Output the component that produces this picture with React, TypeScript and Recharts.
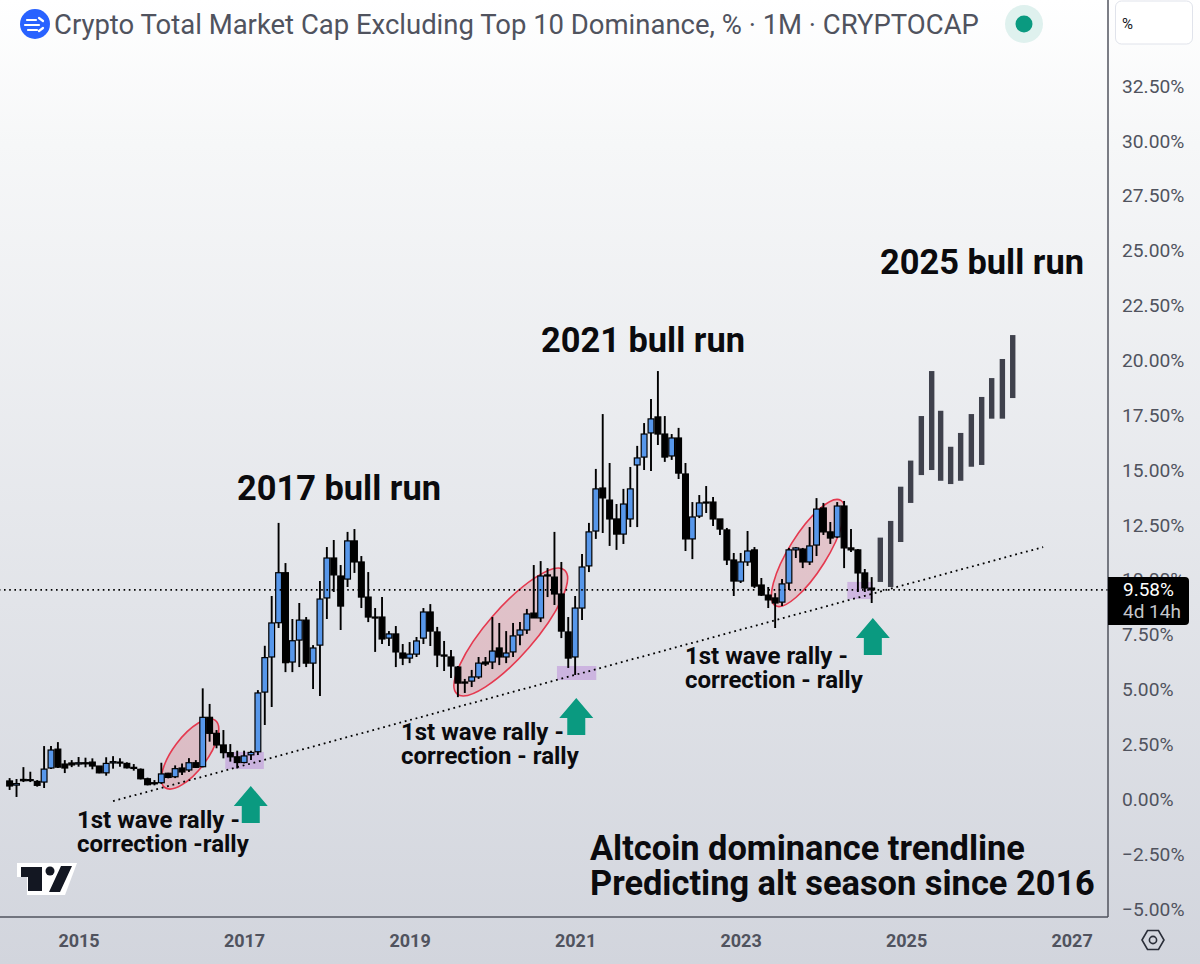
import { Bar, ComposedChart, ReferenceArea, ReferenceDot, ReferenceLine, XAxis, YAxis } from "recharts";

// month numbers count from Jan 2015 = 0
const FIRST_MONTH = -10;

const opens = [
  0.87, 0.68, 0.94, 0.9, 0.85, 0.82, 1.46, 2.32, 1.64, 1.69,
  1.64, 1.7, 1.73, 1.55, 1.24, 1.69, 1.73, 1.67, 1.49, 1.4, 0.97, 0.79, 0.79, 1.22,
  1.06, 1.46, 1.37, 1.7, 1.52, 3.77, 3.04, 2.51, 2.16, 1.97, 1.71, 2.06,
  2.2, 4.92, 6.52, 8.08, 10.36, 6.29, 7.29, 8.2, 6.24, 7.06, 9.21, 11.03,
  10.21, 10.07, 11.81, 10.85, 9.25, 8.34, 8.34, 7.38, 7.57, 6.7, 6.47, 6.65,
  7.38, 8.57, 7.66, 6.61, 6.52, 6.06, 5.38, 5.42, 5.61, 6.29, 6.29, 6.93,
  6.52, 6.75, 7.52, 7.75, 8.52, 8.3, 10.21, 10.16, 9.39, 7.66, 6.52, 8.75,
  10.67, 12.26, 14.22, 13.67, 12.81, 12.12, 12.81, 15.27, 15.63, 16.73, 17.46, 16.68,
  15.68, 16.5, 14.86, 11.9, 12.94, 13.54, 13.58, 12.81, 12.31, 10.94, 9.98, 10.85,
  11.4, 9.8, 9.34, 9.21, 9.02, 9.89, 11.4, 11.44, 10.85, 11.62, 13.31, 12.22,
  11.99, 13.4, 11.49, 11.4, 10.35, 9.66,
];
const closes = [
  0.64, 0.75, 0.88, 0.93, 0.67, 1.41, 2.28, 1.5, 1.46, 1.6,
  1.7, 1.65, 1.55, 1.24, 1.67, 1.75, 1.69, 1.47, 1.44, 0.97, 0.7, 0.74, 1.19, 1.03,
  1.43, 1.28, 1.7, 1.49, 3.77, 3.04, 2.51, 2.16, 1.97, 1.71, 2.01, 2.17,
  4.88, 6.49, 8.07, 10.36, 6.26, 7.26, 8.2, 6.24, 6.93, 9.16, 11.03, 10.26,
  8.84, 11.81, 10.85, 9.25, 8.34, 8.3, 7.34, 7.57, 6.75, 6.47, 6.65, 7.25,
  8.57, 7.7, 6.61, 6.56, 6.11, 5.33, 5.33, 5.61, 6.24, 6.2, 6.79, 6.52,
  6.7, 7.48, 7.75, 8.48, 8.3, 10.21, 10.26, 9.39, 7.7, 6.47, 8.75, 10.62,
  12.22, 14.18, 13.77, 12.81, 12.12, 13.49, 14.18, 15.59, 16.68, 17.37, 16.68, 15.63,
  16.5, 14.9, 11.9, 12.9, 13.54, 13.58, 12.81, 12.35, 10.94, 9.98, 10.85, 11.35,
  9.75, 9.34, 9.12, 8.98, 9.85, 11.4, 11.49, 10.85, 11.58, 13.26, 12.22, 11.94,
  13.4, 11.49, 11.4, 10.35, 9.66, 9.58,
];
const highs = [
  1.0, 0.96, 1.5, 1.29, 0.91, 2.46, 2.46, 2.64, 1.82, 1.82,
  1.96, 1.93, 1.9, 1.55, 1.95, 2.0, 1.9, 1.72, 1.64, 1.44, 1.02, 0.91, 1.7, 1.24,
  1.58, 1.67, 1.91, 1.82, 5.09, 4.38, 3.19, 3.19, 2.55, 2.25, 2.25, 2.25,
  5.01, 7.03, 9.3, 12.63, 10.8, 8.25, 8.98, 8.34, 7.06, 9.98, 11.53, 11.85,
  10.71, 12.22, 12.35, 11.12, 10.39, 8.75, 9.25, 7.7, 7.93, 7.11, 7.2, 7.43,
  8.75, 8.93, 7.89, 7.25, 6.84, 6.11, 5.52, 5.93, 6.52, 6.52, 8.34, 8.07,
  7.7, 8.07, 8.11, 8.71, 10.71, 10.89, 10.57, 12.22, 10.85, 8.34, 9.3, 11.21,
  12.63, 15.09, 17.59, 15.36, 13.49, 14.18, 15.18, 16.14, 17.18, 18.28, 19.55, 17.5,
  16.68, 16.96, 15.36, 13.58, 13.9, 14.31, 13.81, 12.81, 12.4, 11.26, 11.26, 12.26,
  11.53, 10.12, 9.71, 9.43, 10.07, 11.49, 11.53, 11.49, 12.44, 13.76, 13.54, 12.67,
  13.58, 13.63, 12.35, 11.44, 10.53, 10.16,
];
const lows = [
  0.46, 0.14, 0.82, 0.82, 0.61, 0.55, 1.41, 1.46, 1.23, 1.5,
  1.52, 1.49, 1.4, 1.22, 1.11, 1.43, 1.52, 1.44, 1.34, 0.94, 0.67, 0.67, 0.73, 0.99,
  1.0, 1.14, 1.28, 1.46, 1.49, 2.66, 2.36, 1.9, 1.75, 1.44, 1.67, 1.82,
  2.05, 3.42, 4.24, 7.84, 5.83, 5.83, 6.06, 6.06, 5.06, 4.74, 8.25, 9.48,
  7.75, 9.71, 10.35, 8.75, 8.11, 6.75, 7.11, 7.02, 6.06, 6.15, 6.24, 6.52,
  7.11, 7.02, 6.06, 5.88, 5.56, 4.69, 4.88, 5.15, 5.52, 6.11, 5.97, 6.15,
  6.24, 6.52, 7.06, 7.57, 8.3, 8.11, 9.25, 8.89, 7.38, 6.02, 5.7, 8.2,
  10.39, 11.9, 12.17, 11.58, 11.4, 11.67, 12.44, 12.44, 15.04, 15.0, 16.18, 15.41,
  15.5, 14.63, 11.35, 10.98, 12.85, 13.08, 12.49, 12.08, 10.71, 9.3, 9.89, 10.67,
  9.66, 9.3, 8.75, 7.84, 8.84, 9.57, 11.03, 10.57, 10.71, 11.12, 12.08, 11.67,
  11.94, 10.57, 11.3, 9.48, 9.48, 8.98,
];

// the drawn forecast bars
const ghostMonths = [116.25, 117.75, 119.2, 120.65, 122.2, 123.7, 125, 126.45, 127.9, 129.45, 130.95, 132.4, 133.95, 135.45];
const ghostLows = [9.94, 9.71, 11.76, 13.54, 14.81, 15.04, 14.55, 14.4, 14.55, 15.19, 15.27, 17.38, 17.38, 18.32];
const ghostHighs = [11.96, 12.72, 14.28, 15.47, 17.5, 19.55, 17.74, 16.1, 16.73, 17.59, 18.37, 19.23, 20.1, 21.19];

const yearTicks = [0, 24, 48, 72, 96, 120, 144];
const percentTicks = [-5, -2.5, 0, 2.5, 5, 7.5, 10, 12.5, 15, 17.5, 20, 22.5, 25, 27.5, 30, 32.5];
const lastPrice = 9.58;

const trendline = [
  { x: 4.93, y: -0.05 },
  { x: 139.8, y: 11.53 },
];

// purple "touch" zones: month from/to, value from/to
const zones = [
  [21.2, 26.8, 1.41, 2.19],
  [69.3, 75, 5.47, 6.11],
  [111.4, 115.1, 9.16, 9.94],
];
// red ellipses: centre month, centre value, radii in px, tilt
const ellipses = [
  [16.1, 2.1, 42, 17, -53],
  [62.6, 7.66, 82, 24, -49],
  [105.7, 11.26, 62, 19, -58],
];
// tip of each green arrow
const arrows = [
  [24.9, 0.64],
  [72.1, 4.65],
  [115.1, 8.3],
];

const chartData: any[] = [
  ...opens.map((open, i) => ({
    month: FIRST_MONTH + i,
    open,
    close: closes[i],
    high: highs[i],
    low: lows[i],
  })),
  ...ghostMonths.map((month, i) => ({ month, low: ghostLows[i], high: ghostHighs[i], ghost: true })),
];

const UP = "#5797ea";
const INK = "#50535e";

function Candle(props: any) {
  const { x, y, width, height, payload } = props;
  const cx = x + width / 2;
  const top = Math.min(y, y + height);
  const h = Math.abs(height);
  if (payload.ghost) {
    return <rect x={cx - 2.7} y={top} width={5.4} height={h} fill="#3f414c" />;
  }
  const perUnit = h / (payload.high - payload.low);
  const isUp = payload.close >= payload.open;
  const bodyTop = top + (payload.high - Math.max(payload.open, payload.close)) * perUnit;
  const bodyH = Math.max(Math.abs(payload.open - payload.close) * perUnit, 1);
  return (
    <g>
      <line x1={cx} x2={cx} y1={top} y2={top + h} stroke="#000" strokeWidth={1.9} />
      <rect x={cx - 2.9} y={bodyTop} width={5.8} height={bodyH} fill={isUp ? UP : "#000"} stroke="#000" strokeWidth={1.2} />
    </g>
  );
}

function EllipseMark(props: any) {
  const { cx, cy, rx, ry, tilt } = props;
  return (
    <ellipse
      cx={cx}
      cy={cy}
      rx={rx}
      ry={ry}
      transform={`rotate(${tilt} ${cx} ${cy})`}
      fill="rgba(222,60,75,0.2)"
      stroke="#e5394f"
      strokeWidth={1.6}
    />
  );
}

function ArrowMark({ cx, cy }: any) {
  return (
    <path
      d={`M${cx} ${cy} l17 20 h-8 v17 h-18 v-17 h-8 z`}
      fill="#0a9a80"
    />
  );
}

function Label({ left, top, size, gap, lines }: { left: number; top: number; size: number; gap: number; lines: string[] }) {
  return (
    <div
      style={{
        position: "absolute",
        left,
        top,
        fontSize: size,
        fontWeight: 700,
        lineHeight: `${gap}px`,
        color: "#0b0b0e",
        whiteSpace: "nowrap",
      }}
    >
      {lines.map((l) => (
        <div key={l}>{l}</div>
      ))}
    </div>
  );
}

export default function App() {
  return (
    <div
      style={{
        position: "absolute",
        left: 0,
        top: 0,
        width: 1200,
        height: 964,
        overflow: "hidden",
        fontFamily: "Roboto, sans-serif",
        background: "linear-gradient(#ffffff 0%, #f6f7f8 15%, #d2d5dd 100%)",
      }}
    >
      <ComposedChart width={1200} height={964} data={chartData} margin={{ top: 0, right: 0, bottom: 0, left: 0 }}>
        <XAxis
          dataKey="month"
          type="number"
          domain={[-11.46, 149.2]}
          allowDataOverflow
          ticks={yearTicks}
          interval={0}
          height={47}
          tickLine={false}
          tickMargin={11}
          axisLine={{ stroke: INK, strokeWidth: 1.5 }}
          tick={{ fill: INK, fontSize: 18, fontWeight: 700 }}
          tickFormatter={(m: number) => String(2015 + m / 12)}
        />
        <YAxis
          orientation="right"
          type="number"
          domain={[-5.33, 36.46]}
          allowDataOverflow
          ticks={percentTicks}
          interval={0}
          width={92}
          tickLine={false}
          tickMargin={8}
          axisLine={{ stroke: INK, strokeWidth: 1.5 }}
          tick={{ fill: INK, fontSize: 19.2, dy: -1 }}
          tickFormatter={(v: number) => `${v < 0 ? "\u2212" : ""}${Math.abs(v).toFixed(2)}%`}
        />
        {zones.map(([x1, x2, y1, y2]) => (
          <ReferenceArea key={x1} x1={x1} x2={x2} y1={y1} y2={y2} fill="#b57fd6" fillOpacity={0.45} stroke="none" />
        ))}
        {ellipses.map(([x, y, rx, ry, tilt]) => (
          <ReferenceDot key={x} x={x} y={y} zIndex={100} shape={(p: any) => <EllipseMark {...p} rx={rx} ry={ry} tilt={tilt} />} />
        ))}
        <ReferenceLine y={lastPrice} stroke="#000" strokeWidth={1.6} strokeDasharray="1.6 3.6" />
        <ReferenceLine segment={trendline} stroke="#000" strokeWidth={1.8} strokeDasharray="1.8 3.8" />
        <Bar dataKey={(d: any) => [d.low, d.high]} barSize={6} shape={Candle} isAnimationActive={false} />
        {arrows.map(([x, y]) => (
          <ReferenceDot key={x} x={x} y={y} shape={ArrowMark} />
        ))}
      </ComposedChart>

      {/* header */}
      <svg width={1200} height={60} style={{ position: "absolute", left: 0, top: 0 }}>
        <circle cx={35} cy={24} r={15} fill="#2962ff" />
        <path d="M27 20 h9 M25 25 h14 M28 30 h9 M39 18 l4 3 M39 31 l4 -3" stroke="#fff" strokeWidth={2.2} fill="none" strokeLinecap="round" />
        <circle cx={1024} cy={24} r={19} fill="#dff1ee" />
        <circle cx={1024} cy={24} r={8.5} fill="#0a9a80" />
        <rect x={1115.5} y={1} width={77} height={43} rx={6} fill="#fff" stroke="#e0e3eb" />
      </svg>
      <div
        style={{
          position: "absolute",
          left: 54,
          top: 8,
          fontSize: 28,
          color: INK,
          whiteSpace: "nowrap",
          transform: "scaleX(0.981)",
          transformOrigin: "left center",
        }}
      >
        Crypto Total Market Cap Excluding Top 10 Dominance, % · 1M · CRYPTOCAP
      </div>
      <div style={{ position: "absolute", left: 1122, top: 15, fontSize: 15, color: "#131722" }}>%</div>

      {/* last price tag */}
      <div
        style={{
          position: "absolute",
          left: 1108,
          top: 577,
          width: 81,
          height: 48,
          background: "#000",
          borderRadius: "0 4px 4px 0",
          fontSize: 19,
          lineHeight: "22px",
          paddingTop: 2,
          boxSizing: "border-box",
          paddingLeft: 15,
          color: "#fff",
        }}
      >
        <div>9.58%</div>
        <div style={{ color: "#c4c6cc" }}>4d 14h</div>
      </div>

      <Label left={237} top={468} size={34.4} gap={40} lines={["2017 bull run"]} />
      <Label left={541} top={320} size={34.4} gap={40} lines={["2021 bull run"]} />
      <Label left={880} top={242} size={34.4} gap={40} lines={["2025 bull run"]} />
      <Label left={77} top={808} size={24} gap={24} lines={["1st wave rally -", "correction -rally"]} />
      <Label left={401} top={720} size={24} gap={24} lines={["1st wave rally -", "correction - rally"]} />
      <Label left={685} top={644} size={24} gap={24} lines={["1st wave rally -", "correction - rally"]} />
      <Label left={590} top={831} size={34.4} gap={35} lines={["Altcoin dominance trendline", "Predicting alt season since 2016"]} />

      {/* logo and settings icon */}
      <svg width={1200} height={964} style={{ position: "absolute", left: 0, top: 0, pointerEvents: "none" }}>
        <path d="M17 863 H77 L65 895 H27 V877 H17 Z" fill="#fff" />
        <path d="M21 867 H42 V891 H28 V877 H21 Z M72 866 L60 892 H49 L61 866 Z" fill="#131722" />
        <circle cx={50} cy={871} r={4.5} fill="#131722" />
        <path d="M1142 940 L1147.5 930.5 H1158.5 L1164 940 L1158.5 949.5 H1147.5 Z" fill="none" stroke="#2a2e39" strokeWidth={1.6} />
        <circle cx={1153} cy={940} r={3.6} fill="none" stroke="#2a2e39" strokeWidth={1.6} />
      </svg>
    </div>
  );
}
